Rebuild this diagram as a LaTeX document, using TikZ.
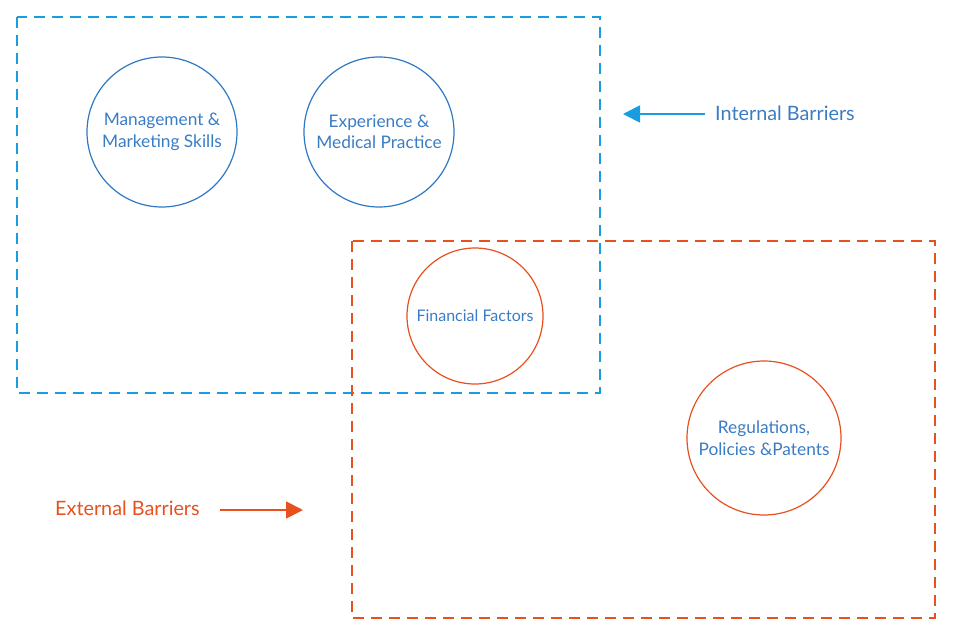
\documentclass[tikz,border=0pt]{standalone}
\usepackage{fontspec}
\setmainfont{Lato}
\usetikzlibrary{arrows.meta}
\definecolor{dashblue}{HTML}{1A9DE0}
\definecolor{circblue}{HTML}{2F78C4}
\definecolor{txtblue}{HTML}{3A7CC4}
\definecolor{orng}{HTML}{E8501E}
\tikzset{
  pxcoord/.style={x=1pt,y=-1pt},
  dashbox/.style={line width=2pt,dash pattern=on 11pt off 7pt},
  bubble/.style={circle,line width=1.2pt,align=center,text=txtblue,font=\fontsize{17.3}{21.5}\selectfont,inner sep=0pt},
  lbl/.style={font=\fontsize{19.8}{24}\selectfont,inner sep=0pt},
  arr/.style={line width=1.8pt,-{Triangle[length=17pt,width=17pt]}}
}
\begin{document}
\begin{tikzpicture}[pxcoord]
\useasboundingbox (0,0) rectangle (960,640);
\draw[dashbox,draw=dashblue] (17,17) rectangle (600,393);
\draw[dashbox,draw=orng] (352,241) rectangle (935,618);
\node[bubble,draw=circblue,minimum size=150pt] (mgmt) at (162,132) {Management \&\\Marketing Skills};
\node[bubble,draw=circblue,minimum size=150pt] (exp) at (379,132) {Experience \&\\Medical Practice};
\node[bubble,draw=orng,minimum size=136pt,font=\fontsize{16}{20}\selectfont] (fin) at (475,316) {Financial Factors};
\node[bubble,draw=orng,minimum size=154pt] (reg) at (764,438) {Regulations,\\Policies \&Patents};
\node[lbl,text=txtblue,anchor=west] (intl) at (715,113) {Internal Barriers};
\coordinate (intend) at (623,114);
\draw[arr,draw=dashblue,fill=dashblue] (705,114) -- (intend);
\node[lbl,text=orng,anchor=west] (extl) at (55,508) {External Barriers};
\coordinate (extend) at (303,510);
\draw[arr,draw=orng,fill=orng] (220,510) -- (extend);
\end{tikzpicture}
\end{document}
